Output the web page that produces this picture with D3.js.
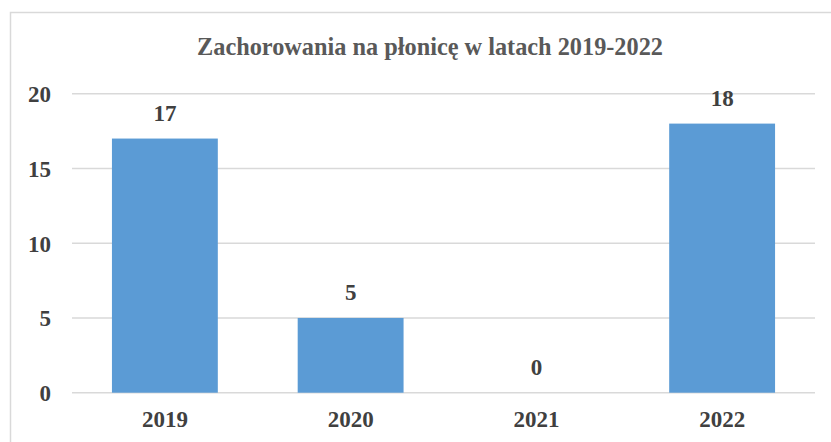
<!DOCTYPE html>
<html>
<head>
<meta charset="utf-8">
<script src="https://cdn.jsdelivr.net/npm/d3@7"></script>
<style>
	body { margin:0; background:#fff; }
</style>
</head>
<body>
<div id="chart"></div>
<script>
var years = ["2019","2020","2021","2022"];
var cases = [17, 5, 0, 18];
var yTicks = [0, 5, 10, 15, 20];
var title = "Zachorowania na płonicę w latach 2019-2022";

var width = 831, height = 442;
var plot = {left:72, right:815, top:93.7, bottom:392.7};
var serif = '"Liberation Serif", "Times New Roman", serif';

var svg = d3.select('#chart').append('svg')
	.attr('width', width)
	.attr('height', height);

// chart frame (right and bottom edges fall outside the picture)
svg.append('rect')
	.attr('x', 10.5).attr('y', 12.5)
	.attr('width', 840).attr('height', 450)
	.attr('fill', 'none')
	.attr('stroke', '#d9d9d9')
	.attr('stroke-width', 1.5);

var x = d3.scaleBand()
	.domain(years)
	.range([plot.left, plot.right])
	.paddingInner(0.43)
	.paddingOuter(0.215);

var y = d3.scaleLinear()
	.domain([0, 20])
	.range([plot.bottom, plot.top]);

// gridlines
svg.append('g').selectAll('line')
	.data(yTicks)
	.enter().append('line')
	.attr('x1', plot.left).attr('x2', plot.right)
	.attr('y1', function(d){ return y(d); })
	.attr('y2', function(d){ return y(d); })
	.attr('stroke', '#d9d9d9')
	.attr('stroke-width', 1.5);

// y axis labels
var yAxis = svg.append('g')
	.attr('transform', 'translate(51,0)')
	.call(d3.axisLeft(y).tickValues(yTicks).tickSize(0).tickPadding(0));
yAxis.select('.domain').remove();
yAxis.selectAll('text')
	.attr('fill', '#404040')
	.style('font-family', serif)
	.style('font-weight', 'bold')
	.style('font-size', '23px')
	.attr('dy', '0.34em');

// bars
svg.append('g').selectAll('rect')
	.data(cases)
	.enter().append('rect')
	.attr('x', function(d,i){ return x(years[i]); })
	.attr('width', x.bandwidth())
	.attr('y', function(d){ return y(d); })
	.attr('height', function(d){ return y(0) - y(d); })
	.attr('fill', '#5b9bd5');

// value labels
svg.append('g').selectAll('text')
	.data(cases)
	.enter().append('text')
	.attr('x', function(d,i){ return x(years[i]) + x.bandwidth()/2; })
	.attr('y', function(d){ return y(d) - 17.5; })
	.attr('text-anchor', 'middle')
	.attr('fill', '#404040')
	.style('font-family', serif)
	.style('font-weight', 'bold')
	.style('font-size', '23px')
	.text(function(d){ return d; });

// x axis labels
var xAxis = svg.append('g')
	.attr('transform', 'translate(0,' + plot.bottom + ')')
	.call(d3.axisBottom(x).tickSize(0).tickPadding(0));
xAxis.select('.domain').remove();
xAxis.selectAll('text')
	.attr('fill', '#404040')
	.style('font-family', serif)
	.style('font-weight', 'bold')
	.style('font-size', '23px')
	.attr('dy', 0)
	.attr('y', 34);

// title
svg.append('text')
	.attr('x', 430)
	.attr('y', 55)
	.attr('text-anchor', 'middle')
	.attr('fill', '#595959')
	.style('font-family', serif)
	.style('font-weight', 'bold')
	.style('font-size', '24.3px')
	.text(title);
</script>
</body>
</html>
